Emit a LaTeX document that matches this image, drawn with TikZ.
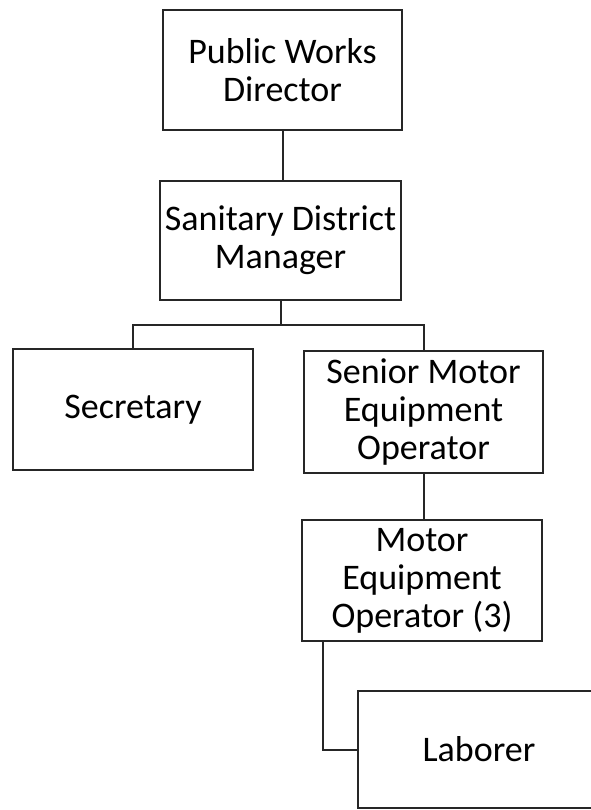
\documentclass[tikz,border=0pt]{standalone}
\usepackage{fontspec}
\setmainfont{Carlito}
\begin{document}
\begin{tikzpicture}[x=1pt,y=-1pt,
  orgbox/.style={draw=black!85, line width=2pt, align=center, inner sep=0pt,
    font=\fontsize{36}{38}\selectfont},
  link/.style={draw=black!85, line width=2pt}]
\useasboundingbox[fill=white] (0,0) rectangle (590,810);
\node[orgbox, minimum width=239pt, minimum height=120pt] (pwd) at (282.5,70) {Public Works\\Director};
\node[orgbox, minimum width=241pt, minimum height=119pt] (sdm) at (280.5,240.5) {Sanitary District\\Manager};
\node[orgbox, minimum width=240pt, minimum height=121pt] (sec) at (133,409.5) {Secretary};
\node[orgbox, minimum width=239pt, minimum height=122pt] (smeo) at (423.5,412) {Senior Motor\\Equipment\\Operator};
\node[orgbox, minimum width=240pt, minimum height=121pt] (meo) at (422,580.5) {Motor\\Equipment\\Operator (3)};
\node[orgbox, minimum width=242pt, minimum height=117pt] (lab) at (479,749.5) {Laborer};
\coordinate (bus) at (282,325);
\draw[link] (pwd.south) -- (pwd.south |- sdm.north);
\draw[link] (sdm.south) -- (sdm.south |- bus);
\draw[link] (sec.north) |- (bus) -| (smeo.north);
\draw[link] (smeo.south) -- (smeo.south |- meo.north);
\draw[link] ([xshift=-99pt]meo.south) |- (lab.west);
\end{tikzpicture}
\end{document}
